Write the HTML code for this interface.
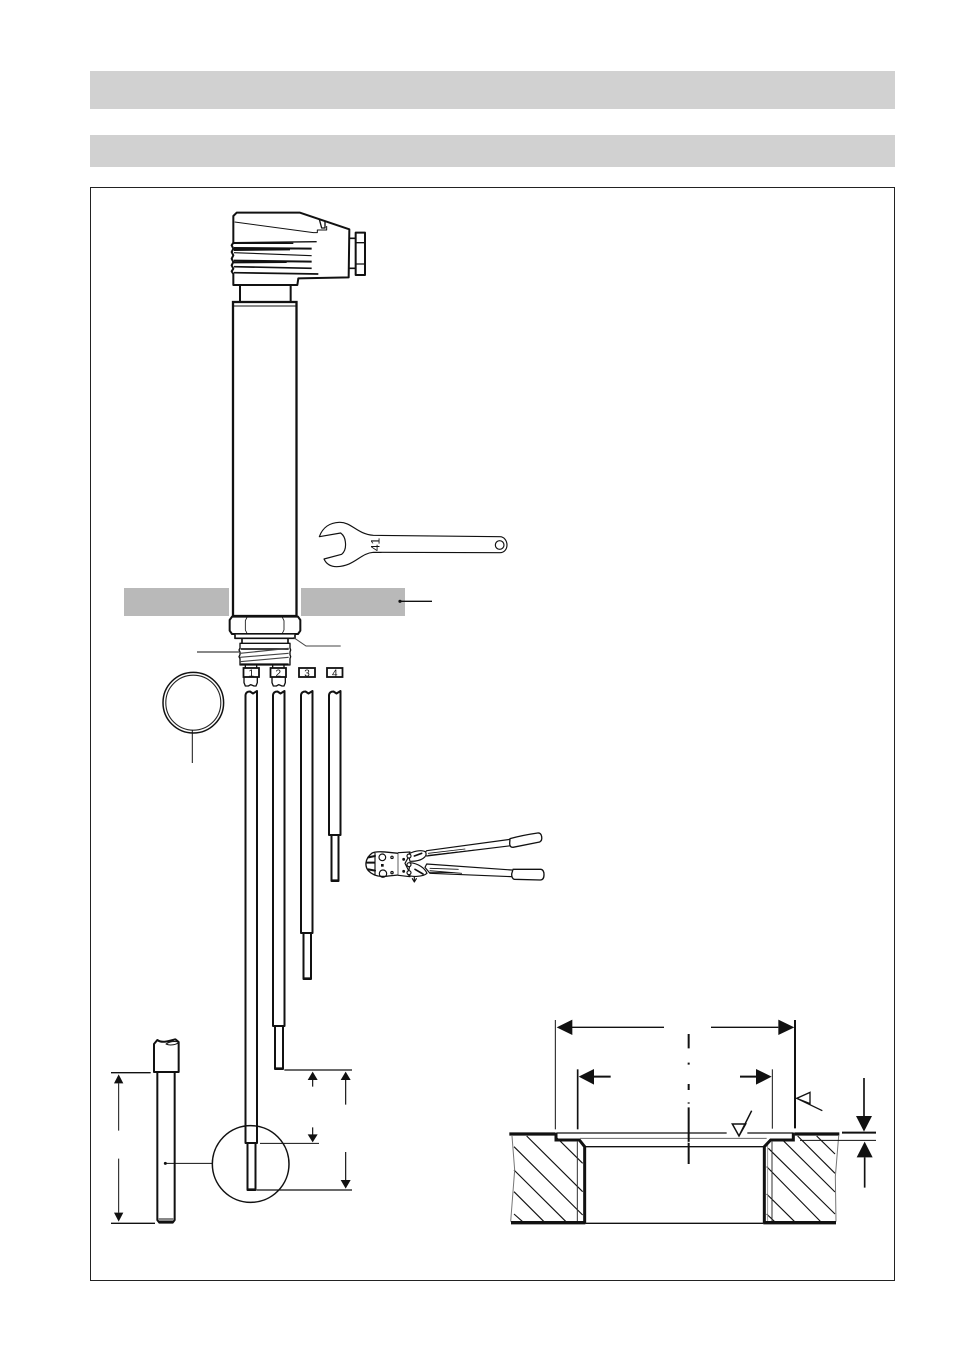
<!DOCTYPE html>
<html><head><meta charset="utf-8"><style>
html,body{margin:0;padding:0;background:#fff}
svg{display:block}
text{font-family:"Liberation Sans",sans-serif;fill:#111}
</style></head><body>
<svg width="953" height="1352" viewBox="0 0 953 1352" xmlns="http://www.w3.org/2000/svg">
<rect width="953" height="1352" fill="#fff"/>
<rect x="90" y="71" width="805" height="38" fill="#d1d1d1"/>
<rect x="90" y="135" width="805" height="32" fill="#d1d1d1"/>
<rect x="90.5" y="187.5" width="804" height="1093" fill="#fff" stroke="#222" stroke-width="1"/>

<!-- slabs -->
<rect x="124" y="588" width="105" height="28" fill="#b9b9b9"/>
<rect x="301" y="588" width="104" height="28" fill="#b9b9b9"/>
<path d="M400 601.3H432" stroke="#111" stroke-width="1.3"/><circle cx="400" cy="601.3" r="1.6" fill="#111"/>

<!-- connector head -->
<g transform="translate(210,200) scale(.33333)" fill="none" stroke="#111" stroke-linejoin="round">
<path d="M270 38H80L70 48V128L65 136 70 146 65 156 70 166 65 176 70 186 65 196 70 206 65 214 70 222V255H262L265 235 416 232 418 88Z" stroke-width="6" fill="#fff"/>
<path d="M74 66L310 98H322V90H350V78" stroke-width="3"/>
<path d="M328 58L335 84 345 84 345 62" stroke-width="4"/>
<path d="M70 128L320 125M70 130H250" stroke-width="4"/>
<path d="M72 144L305 146M72 150L240 148" stroke-width="6"/>
<path d="M72 158L305 167" stroke-width="3.5"/>
<path d="M72 182L305 185M72 187L230 186" stroke-width="6"/>
<path d="M72 200L305 205" stroke-width="5"/>
<path d="M72 218L325 222" stroke-width="5"/>
<path d="M418 115H436M418 205H436" stroke-width="5"/>
<rect x="437" y="98" width="28" height="127" stroke-width="6" fill="#fff"/>
<path d="M437 128H465M437 192H465" stroke-width="4"/>
<path d="M90 255V304M242 255V304" stroke-width="6"/>
</g>

<!-- body -->
<rect x="233" y="302" width="63.5" height="314" fill="#fff" stroke="#111" stroke-width="2.3"/>
<path d="M233 306H296" stroke="#111" stroke-width="1"/>

<!-- nut + thread -->
<g transform="translate(120,580) scale(.33333)" fill="none" stroke="#111" stroke-linejoin="round">
<path d="M336 110H534L541 120V152L534 162H336L329 152V120Z" stroke-width="6" fill="#fff"/>
<path d="M381 112L376 122V150L381 160M487 112L492 122V150L487 160" stroke-width="2.5"/>
<path d="M345 164V175H525V164" stroke-width="5" fill="#fff"/>
<path d="M366 176V190M504 176V190" stroke-width="5"/>
<path d="M360 190H510V204L512 210 510 216V224L512 230 510 236V255H360V236L357 230 360 224V216L357 210 360 204Z" stroke-width="4" fill="#fff"/>
<path d="M362 207H506" stroke-width="5" stroke="#222"/>
<path d="M360 220L506 205M360 232L506 220M360 245L506 232" stroke-width="3.5" stroke="#444"/>
<path d="M362 252H506" stroke-width="4"/>
<path d="M376 255V263M410 255V263M458 255V263M492 255V263" stroke-width="4"/>
<path d="M372 292V308L376 318H385L392 314 402 318H408L412 308V292" stroke-width="4"/>
<path d="M456 292V308L460 318H469L476 314 486 318H492L496 308V292" stroke-width="4"/>
</g>
<path d="M293.3 637.3L306 646H340.7" fill="none" stroke="#444" stroke-width="1"/>
<path d="M197 652H239" stroke="#111" stroke-width="1"/>

<g font-size="10" text-anchor="middle">
<g fill="#fff" stroke="#111" stroke-width="1.8">
<rect x="243.5" y="668" width="15.5" height="9"/>
<rect x="270.5" y="668" width="15.5" height="9"/>
<rect x="299" y="668" width="16" height="9"/>
<rect x="327" y="668" width="15.5" height="9"/>
</g>
<text x="251.3" y="676.5">1</text><text x="278.3" y="676.5">2</text><text x="307" y="676.5">3</text><text x="334.8" y="676.5">4</text>
</g>

<!-- o-ring -->
<circle cx="193.3" cy="702.7" r="30.3" fill="none" stroke="#111" stroke-width="1.5"/>
<circle cx="193.3" cy="702.7" r="27.5" fill="none" stroke="#222" stroke-width="1.1"/>
<path d="M192.3 730V763" stroke="#111" stroke-width="1"/>

<!-- rods -->
<g fill="none" stroke="#111" stroke-width="2" stroke-linejoin="round">
<path d="M245.5 1143V695Q246 691.5 250 691.5L253 693.5 257 691V1143Z"/>
<path d="M247.5 1143V1190H255.5V1143"/>
<path d="M273 1026V695Q273.5 691.5 277.5 691.5L280.5 693.5 284.5 691V1026Z"/>
<path d="M275 1026V1069H283V1026"/>
<path d="M301 933V695Q301.5 691.5 305.5 691.5L308.5 693.5 312.5 691V933Z"/>
<path d="M303.5 933V979H311V933"/>
<path d="M329 835V695Q329.5 691.5 333.5 691.5L336.5 693.5 340.5 691V835Z"/>
<path d="M331.5 835V881H338.5V835"/>
</g>
<path d="M247.5 1189.5H255.5M275 1068.5H283M303.5 978.5H311M331.5 880.5H338.5" stroke="#111" stroke-width="2.2"/>

<!-- wrench -->
<g transform="translate(310,510) scale(.33333)" fill="none" stroke="#111" stroke-width="3.5" stroke-linejoin="round">
<path d="M28 80C38 52 60 38 88 37 125 36 140 72 190 76L570 80C582 80 591 92 591 105 591 118 582 128 570 128L190 127C150 130 135 168 80 170 60 170 48 160 42 147L95 133C105 125 108 110 106 95 105 85 100 75 92 69Z" fill="#fff"/>
<circle cx="569" cy="105" r="13"/>
</g>
<text transform="translate(379.5,544.5) rotate(-90)" font-size="12" text-anchor="middle">41</text>

<!-- crimping pliers -->
<g transform="translate(355,820) scale(.33333)" fill="none" stroke="#111" stroke-width="3.5" stroke-linejoin="round" stroke-linecap="round">
<path d="M466 58L215 92 205 104 215 108 468 77" fill="#fff"/>
<path d="M220 100L330 87M220 106L360 90" stroke-width="2.5"/>
<path d="M465 56Q500 46 548 39 558 38 560 50 562 62 554 66L474 82Q464 82 464 70Z" fill="#fff" stroke-width="4"/>
<path d="M470 150L215 132 210 142 225 160 472 170" fill="#fff"/>
<path d="M225 145L310 148M225 152L320 160M225 157L300 158" stroke-width="2.5"/>
<path d="M474 148H558Q567 150 567 164 567 180 556 180L478 178Q470 176 470 162Z" fill="#fff" stroke-width="4"/>
<path d="M50 100C60 94 75 94 100 97L130 100V165L100 168C75 172 55 168 40 152 30 140 28 118 50 100Z" fill="#fff" stroke-width="4"/>
<path d="M36 128H58" stroke-width="6"/>
<path d="M40 112L60 108M40 148L60 152" stroke-width="6"/>
<path d="M60 100V165M130 98L165 96 160 112 150 130 160 150 165 170 130 166" fill="#fff"/>
<circle cx="82" cy="112" r="10"/><circle cx="84" cy="161" r="11"/>
<rect x="78" y="132" width="8" height="8" fill="#111" stroke="none"/>
<circle cx="111" cy="112" r="3.5"/><circle cx="111" cy="158" r="3.5"/>
<path d="M160 104C170 94 200 88 212 96 218 110 200 125 165 124Z" fill="#fff"/>
<path d="M160 165C170 172 205 170 216 160 210 145 190 130 165 128Z" fill="#fff"/>
<path d="M178 108L200 100M180 148L204 162" stroke-width="5"/>
<circle cx="162" cy="108" r="6" fill="#fff"/><circle cx="162" cy="134" r="6" fill="#fff"/><circle cx="162" cy="158" r="6" fill="#fff"/>
<circle cx="146" cy="118" r="2.5" fill="#111"/><circle cx="146" cy="154" r="2.5" fill="#111"/>
<path d="M178 170V184M172 176L178 186 184 176"/>
</g>

<!-- lower-left detail -->
<g transform="translate(100,1030) scale(.33333)" fill="none" stroke="#111" stroke-linejoin="round">
<path d="M172 126V570L178 578H218L224 570V126" stroke-width="6" fill="#fff"/>
<path d="M176 567H220" stroke-width="3"/><path d="M176 574H220" stroke-width="5"/>
<path d="M162 126V42L172 30C186 40 204 34 226 28L236 36V126Z" stroke-width="6" fill="#fff"/>
<path d="M198 42C210 34 226 34 236 36 232 44 210 48 198 42Z" stroke-width="3"/>
<path d="M33 128H152M33 580H165" stroke-width="4"/>
<path d="M56 160V302M56 386V548" stroke-width="3"/>
<path d="M42 160L56 133 70 160ZM42 548L56 575 70 548Z" fill="#111" stroke="none"/>
<circle cx="196" cy="400" r="4.5" fill="#111" stroke="none"/>
<path d="M196 400H337" stroke-width="3"/>
<circle cx="452" cy="402" r="115" stroke-width="4.5"/>
<path d="M553 120H756M470 480H756" stroke-width="4"/>
<path d="M480 340H657" stroke-width="3"/>
<path d="M638 150V170M638 292V320M737 150V224M737 366V450" stroke-width="3.5"/>
<path d="M623 150L638 125 653 150ZM722 150L737 125 752 150ZM623 313L638 337 653 313ZM722 450L737 476 752 450Z" fill="#111" stroke="none"/>
</g>

<!-- lower-right section -->
<g transform="translate(500,1010) scale(.33333)" fill="none" stroke="#111" stroke-linejoin="miter">
<g stroke-width="3.4" stroke="#111">
<path d="M80 378L248 545M165 378L248 460M42 410L248 615M42 480L198 635M42 545L132 635M42 612L68 635"/>
<path d="M950 378L1005 432M893 378L1005 490M850 392L1005 546M805 415L1005 612M800 470L962 635M800 552L884 635M800 612L824 635"/>
</g>
<path d="M36 378L44 480 32 635M1016 378L1006 500 1008 635" stroke="#777" stroke-width="3"/>
<path d="M232 395V635M816 395V635" stroke="#333" stroke-width="3"/>
<path d="M803 395V635" stroke="#888" stroke-width="2.5"/>
<path d="M28 372H165M884 372H1018" stroke-width="10"/>
<path d="M33 638H256M790 638H1008" stroke-width="10"/>
<path d="M256 640H790" stroke-width="4"/>
<path d="M168 368V390H238L254 410V640M880 368V390H812L793 410V640" stroke-width="9"/>
<path d="M170 369H680M742 369H880" stroke-width="4"/>
<path d="M240 385H800" stroke="#666" stroke-width="3"/>
<path d="M256 410H790" stroke-width="4"/>
<path d="M166 30V358" stroke-width="3"/>
<path d="M885 30V355" stroke-width="6"/>
<path d="M233 178V358" stroke-width="5"/>
<path d="M817 178V356" stroke-width="3"/>
<path d="M216 52H492M633 52H835" stroke-width="4"/>
<path d="M280 200H332M720 200H768" stroke-width="6"/>
<path d="M170 52L217 29V75ZM883 52L835 29V75ZM236 200L282 177V224ZM815 200L768 177V224Z" fill="#111" stroke="none"/>
<path d="M566 72V115M566 158V164M566 222V240M566 277V281M566 292V462" stroke-width="6"/>
<path d="M563 397H570" stroke="#fff" stroke-width="3"/>
<path d="M930 247L890 265 930 281ZM890 265L967 302" stroke-width="4"/>
<path d="M697 342H737L717 378ZM717 378L755 302" stroke-width="4.5"/>
<path d="M1026 368H1128" stroke-width="6"/>
<path d="M900 391H1128" stroke-width="3"/>
<path d="M1092 204V320M1094 442V533" stroke-width="5"/>
<path d="M1068 318H1116L1092 365ZM1070 442H1118L1094 395Z" fill="#111" stroke="none"/>
</g>
</svg>
</body></html>
